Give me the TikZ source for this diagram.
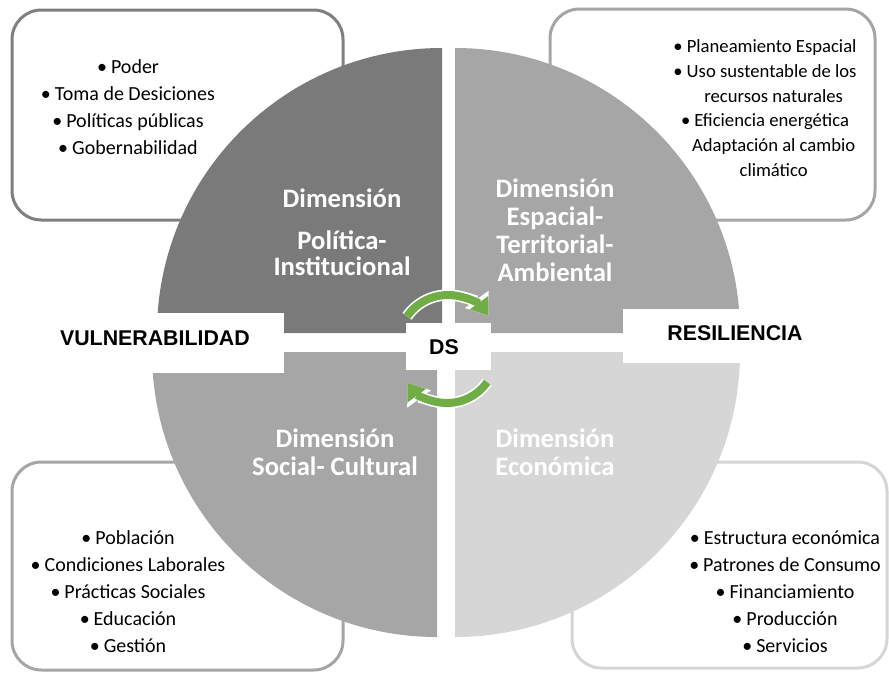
\documentclass[tikz,border=0pt]{standalone}
\usepackage{fontspec}
\setmainfont{Carlito}
\newfontfamily\arialfont{Liberation Sans}
\usetikzlibrary{arrows.meta}
\definecolor{qdark}{HTML}{7A7A7A}
\definecolor{qmid}{HTML}{A6A6A6}
\definecolor{qlight}{HTML}{D6D6D6}
\definecolor{bdark}{HTML}{7F7F7F}
\definecolor{bmid}{HTML}{A5A5A5}
\definecolor{blight}{HTML}{D5D5D5}
\definecolor{arrowgreen}{HTML}{70AD47}
\newcommand\bulletmark{•\hspace{3pt}}
\begin{document}
\begin{tikzpicture}[x=0.75pt,y=0.75pt,
  infobox/.style={line width=2.25pt, rounded corners=22pt, fill=white},
  listtxt/.style={font=\fontsize{15}{20.25}\selectfont, align=center, text=black},
  dimtxt/.style={font=\fontsize{20}{21}\selectfont\bfseries, align=center, text=white},
  tagtxt/.style={font=\arialfont\bfseries\fontsize{16}{19}\selectfont, text=black, inner sep=0pt},
  cyclearrowbg/.style={white, line width=8.5pt, -{Triangle[length=15pt,width=21pt]}},
  cyclearrow/.style={arrowgreen, line width=6pt, -{Triangle[length=12pt,width=16.5pt]}}
]
\useasboundingbox (0,0) rectangle (889,-672);

% information boxes (behind the circle)
\draw[infobox, draw=bdark] (12,-10) rectangle (343,-220);
\draw[infobox, draw=bmid] (550,-9) rectangle (875,-220);
\draw[infobox, draw=bmid] (12,-462) rectangle (343,-670);
\draw[infobox, draw=blight] (572,-462) rectangle (887,-668);

% quadrants
\fill[qdark] (442,-333) -- (157,-333) arc[start angle=180,end angle=90,radius=285] -- cycle;
\fill[qmid] (455,-333) -- (455,-48) arc[start angle=90,end angle=0,radius=285] -- cycle;
\fill[qmid] (437,-352) -- (152,-352) arc[start angle=180,end angle=270,radius=285] -- cycle;
\fill[qlight] (455,-352) -- (740,-352) arc[start angle=0,end angle=-90,radius=285] -- cycle;

% white label bands
\fill[white] (30,-313) rectangle (284,-373);
\fill[white] (623,-309) rectangle (860,-363);
\fill[white] (406,-323) rectangle (491,-370);

% cycle arrows
\draw[cyclearrowbg] (448,-345) ++(145:50) arc[start angle=145,end angle=36,radius=50];
\draw[cyclearrow] (448,-345) ++(145:50) arc[start angle=145,end angle=36,radius=50];
\draw[cyclearrowbg] (447,-354) ++(-35:49) arc[start angle=-35,end angle=-144,radius=49];
\draw[cyclearrow] (447,-354) ++(-35:49) arc[start angle=-35,end angle=-144,radius=49];

% tags
\node[tagtxt, anchor=east] (vul) at (250,-338) {VULNERABILIDAD};
\node[tagtxt] (res) at (735,-333) {RESILIENCIA};
\node[tagtxt] (ds) at (444,-347) {DS};

% dimension labels
\node[dimtxt, font=\fontsize{20}{19.5}\selectfont\bfseries] (dpol) at (342,-232) {Dimensión\\[12pt]Política-\\Institucional};
\node[dimtxt] (desp) at (555,-230) {Dimensión\\Espacial-\\Territorial-\\Ambiental};
\node[dimtxt] (dsoc) at (335,-452) {Dimensión\\Social- Cultural};
\node[dimtxt] (deco) at (555,-452) {Dimensión\\Económica};

% lists
\node[listtxt] (lpol) at (128,-107) {\bulletmark Poder\\\bulletmark Toma de Desiciones\\\bulletmark Políticas públicas\\\bulletmark Gobernabilidad};
\node[listtxt, font=\fontsize{14}{18.5}\selectfont] (lesp) at (765,-108) {\bulletmark Planeamiento Espacial\\\bulletmark Uso sustentable de los\\\hspace*{13pt}recursos naturales\\\bulletmark Eficiencia energética\\\hspace*{13pt}Adaptación al cambio\\\hspace*{13pt}climático};
\node[listtxt] (lsoc) at (128,-592) {\bulletmark Población\\\bulletmark Condiciones Laborales\\\bulletmark Prácticas Sociales\\\bulletmark Educación\\\bulletmark Gestión};
\node[listtxt] (leco) at (785,-592) {\bulletmark Estructura económica\\\bulletmark Patrones de Consumo\\\bulletmark Financiamiento\\\bulletmark Producción\\\bulletmark Servicios};
\end{tikzpicture}
\end{document}
